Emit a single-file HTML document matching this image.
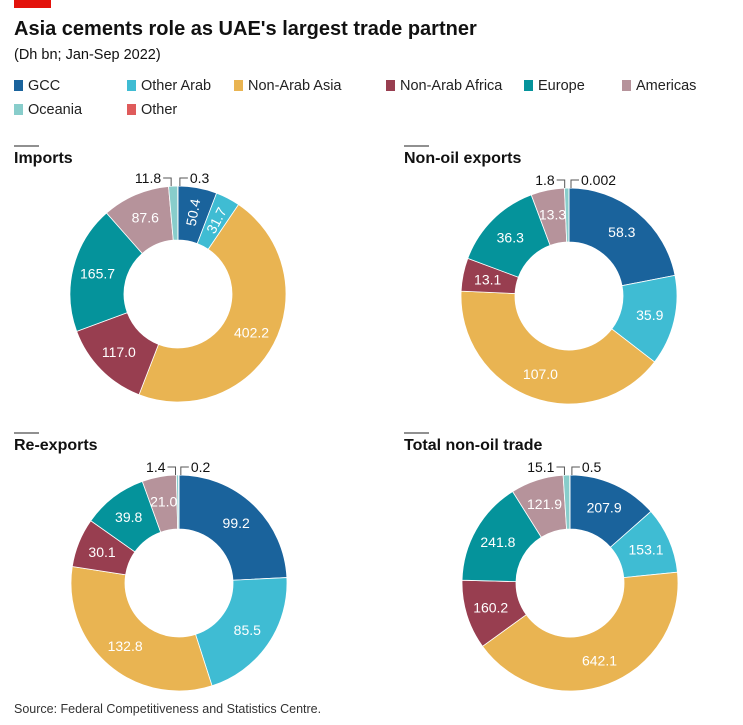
<!DOCTYPE html>
<html><head><meta charset="utf-8"><style>
body{margin:0;background:#fff;}
svg{display:block;font-family:"Liberation Sans",sans-serif;}
</style></head><body>
<svg id="chart" width="743" height="725" viewBox="0 0 743 725">
<rect x="14" y="0" width="37" height="8" fill="#e3120b"/>
<text x="14" y="35" font-size="20" font-weight="bold" fill="#111">Asia cements role as UAE's largest trade partner</text>
<text x="14" y="59" font-size="14.5" fill="#111">(Dh bn; Jan-Sep 2022)</text>
<g id="legend"></g>
<g id="donuts"></g>
<text x="14" y="713" font-size="12.5" fill="#333">Source: Federal Competitiveness and Statistics Centre.</text>
</svg>
<script>
const categories=["GCC","Other Arab","Non-Arab Asia","Non-Arab Africa","Europe","Americas","Oceania","Other"];
const colors=["#1a639c","#3fbcd3","#e9b452","#983e50","#05939b","#b6939b","#88cdcb","#df5b5b"];
const importsValues=[50.4,31.7,402.2,117.0,165.7,87.6,11.8,0.3];
const importsLabels=["50.4","31.7","402.2","117.0","165.7","87.6","11.8","0.3"];
const exportsValues=[58.3,35.9,107.0,13.1,36.3,13.3,1.8,0.002];
const exportsLabels=["58.3","35.9","107.0","13.1","36.3","13.3","1.8","0.002"];
const reexportsValues=[99.2,85.5,132.8,30.1,39.8,21.0,1.4,0.2];
const reexportsLabels=["99.2","85.5","132.8","30.1","39.8","21.0","1.4","0.2"];
const totalValues=[207.9,153.1,642.1,160.2,241.8,121.9,15.1,0.5];
const totalLabels=["207.9","153.1","642.1","160.2","241.8","121.9","15.1","0.5"];
const NS="http://www.w3.org/2000/svg";
const svg=document.getElementById('chart');
function mk(tag,attrs,parent){const e=document.createElementNS(NS,tag);for(const k in attrs)e.setAttribute(k,attrs[k]);parent.appendChild(e);return e;}
// legend
const leg=document.getElementById('legend');
const legX=[14,127,234,386,524,622,14,127],legY=[90,90,90,90,90,90,114,114];
categories.forEach((c,i)=>{
 const g=mk('g',{},leg);
 
 
 mk('rect',{x:legX[i],y:legY[i]-10,width:9,height:11,fill:colors[i]},g);
 const t=mk('text',{x:legX[i]+14,y:legY[i],'font-size':14.5,fill:'#222'},g);t.textContent=c;
});
const donutsG=document.getElementById('donuts');
function donut(name,title,vals,labels,cx,cy,tx,ty,rot){
 const g=mk('g',{},donutsG);
 
 
 mk('line',{x1:tx,y1:ty-17,x2:tx+25,y2:ty-17,stroke:'#222','stroke-width':1},g);
 const tt=mk('text',{x:tx,y:ty,'font-size':16,'font-weight':'bold',fill:'#111'},g);tt.textContent=title;
 
 
 const R=108,r=54,tot=vals.reduce((a,b)=>a+b,0);
 let a0=0;
 const pt=(a,rad)=>[cx+rad*Math.sin(a),cy-rad*Math.cos(a)];
 vals.forEach((v,i)=>{
  const a1=a0+v/tot*2*Math.PI;
  const [x1,y1]=pt(a0,R),[x2,y2]=pt(a1,R),[x3,y3]=pt(a1,r),[x4,y4]=pt(a0,r);
  const lg=(a1-a0)>Math.PI?1:0;
  const p=mk('path',{d:`M${x1},${y1}A${R},${R} 0 ${lg} 1 ${x2},${y2}L${x3},${y3}A${r},${r} 0 ${lg} 0 ${x4},${y4}Z`,fill:colors[i],stroke:'#fff','stroke-width':0.8},g);
  
  
  const mid=(a0+a1)/2;
  if(i<6){
   const [lx,ly]=pt(mid,(R+r)/2+2);
   const t=mk('text',{x:lx,y:ly+5,'font-size':14,fill:'#fff','text-anchor':'middle'},g);
   if(rot[i]){const deg=mid*180/Math.PI-90;t.setAttribute('transform',`rotate(${deg},${lx},${ly})`);}
   t.textContent=labels[i];
   
   
  } else {
   const [ex,ey]=pt(mid,R);
   const left=i===6;
   const lx=left?ex-2:ex+2;
   mk('polyline',{points:`${lx},${ey} ${lx},${cy-R-8} ${left?lx-8:lx+8},${cy-R-8}`,fill:'none',stroke:'#555','stroke-width':1},g);
   const t=mk('text',{x:left?lx-10:lx+10,y:cy-R-3,'font-size':14,fill:'#111','text-anchor':left?'end':'start'},g);
   t.textContent=labels[i];
   
   
  }
  a0=a1;
 });
}
donut('imports-donut','Imports',importsValues,importsLabels,178,294,14,163,[1,1,0,0,0,0]);
donut('non-oil-exports-donut','Non-oil exports',exportsValues,exportsLabels,569,296,404,163,[0,0,0,0,0,0]);
donut('re-exports-donut','Re-exports',reexportsValues,reexportsLabels,179,583,14,450,[0,0,0,0,0,0]);
donut('total-non-oil-trade-donut','Total non-oil trade',totalValues,totalLabels,570,583,404,450,[0,0,0,0,0,0]);
</script>
</body></html>
